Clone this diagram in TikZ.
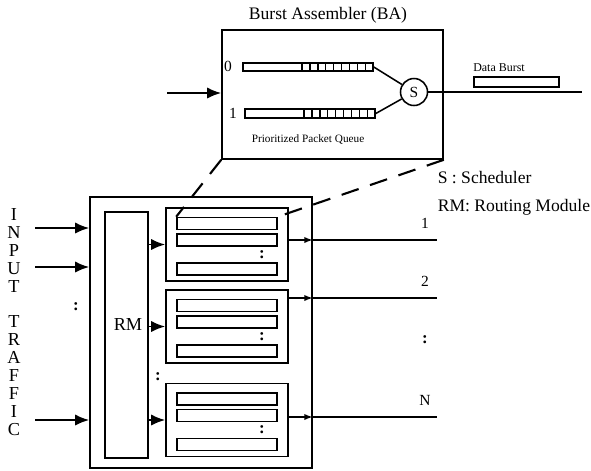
\documentclass[tikz,border=0pt]{standalone}
\usepackage{fontspec}
\setmainfont{Liberation Serif}
\usetikzlibrary{arrows.meta}

\begin{document}
\begin{tikzpicture}[
    x=0.025cm, y=-0.025cm,
    line width=1.1pt,
    box/.style={draw, line width=1.1pt, inner sep=0pt},
    lane/.style={box, minimum width=2.5cm, minimum height=0.3cm},
    inarrow/.style={line width=1.3pt, -{Latex[length=10pt, width=8pt]}},
    outarrow/.style={line width=1.1pt, -{Latex[length=6pt, width=4.5pt]}},
    zoomline/.style={line width=1.5pt, dash pattern=on 0.45cm off 0.3cm},
    lbl/.style={font=\fontsize{12.5}{14}\selectfont, inner sep=0pt},
    dots/.style={font=\bfseries\fontsize{12}{14}\selectfont, inner sep=0pt},
  ]
  \useasboundingbox (0,0) rectangle (591,470);

  \node[lbl] (batitle) at (328,15) {Burst Assembler (BA)};
  \node[box, minimum width=5.525cm, minimum height=3.225cm] (ba) at (332.5,94.5) {};
  \node[box, minimum width=3.25cm, minimum height=0.2cm] (q0) at (308,67) {};
  \node[box, minimum width=3.25cm, minimum height=0.22cm] (q1) at (310,113.5) {};
  \foreach \k in {0,...,8} {
    \draw[line width=1pt] (302+\k*7.9,63) -- ++(0,8);
    \draw[line width=1pt] (304+\k*7.9,109) -- ++(0,9);
  }
  \node[font=\fontsize{11}{12}\selectfont, inner sep=0pt] (l0) at (228,66) {0};
  \node[font=\fontsize{11}{12}\selectfont, inner sep=0pt] (l1) at (233,113) {1};
  \node[font=\fontsize{8}{9}\selectfont, inner sep=0pt] (pq) at (308,140) {Prioritized Packet Queue};
  \node[draw, circle, minimum size=0.675cm, inner sep=0pt, font=\fontsize{11}{12}\selectfont] (s) at (414,92) {S};
  \draw (q0.east) -- (s);
  \draw (q1.east) -- (s);
  \coordinate (bout) at (582,92);
  \draw (s.east) -- (bout);
  \node[box, minimum width=2.125cm, minimum height=0.25cm] (db) at (516.5,82) {};
  \node[font=\fontsize{8.5}{9}\selectfont, inner sep=0pt] (dblbl) at (499,68) {Data Burst};
  \coordinate (bain) at (167,93);
  \draw[inarrow] (bain) -- (ba.west |- bain);

  \node[lbl, anchor=west] (leg1) at (437,178) {S : Scheduler};
  \node[lbl, anchor=west] (leg2) at (437,207) {RM: Routing Module};

  \node[box, minimum width=5.55cm, minimum height=6.775cm] (main) at (201,332.5) {};
  \node[box, minimum width=1.075cm, minimum height=6.15cm] (rm) at (126.5,335) {};
  \node[font=\fontsize{13}{14}\selectfont, inner sep=0pt] (rmtext) at (128,325) {RM};

  \foreach \i/\y in {1/244.5,2/326.5,3/420} {
    \node[box, minimum width=3.05cm, minimum height=1.825cm] (u\i) at (227,\y) {};
    \node[lane] (u\i-a) at (227,\y-21) {};
    \node[lane] (u\i-b) at (227,\y-4.5) {};
    \node[lane] (u\i-c) at (227,\y+24.5) {};
    \node[dots] (u\i-dots) at (262,\y+10) {:};
    \draw[inarrow] (rm.east |- u\i.west) -- (u\i.west);
  }

  \foreach \i/\y/\t in {1/240/1,2/298/2,3/417/N} {
    \coordinate (o\i) at (437,\y);
    \draw[outarrow] (u\i.east |- o\i) -- (main.east |- o\i);
    \draw (main.east |- o\i) -- (o\i);
    \node[font=\fontsize{11}{12}\selectfont, inner sep=0pt] (t\i) at (425,\y-17) {\t};
  }

  \foreach \y [count=\j] in {228,267,420} {
    \coordinate (in\j) at (35,\y);
    \draw[inarrow] (in\j) -- (main.west |- in\j);
  }
  \node[dots] (indots) at (76,307) {:};
  \node[dots] (outdots) at (425,340) {:};
  \node[dots] (udots) at (158,377) {:};

  \node[font=\fontsize{13}{12.7}\selectfont, align=center, inner sep=0pt] (traffic) at (14,322)
    {I\\N\\P\\U\\T\\[12.7pt]T\\R\\A\\F\\F\\I\\C};

  \draw[zoomline] (ba.south west) -- (u1-a.north west);
  \draw[zoomline] (ba.south east) -- (u1-a.north east);
\end{tikzpicture}
\end{document}
